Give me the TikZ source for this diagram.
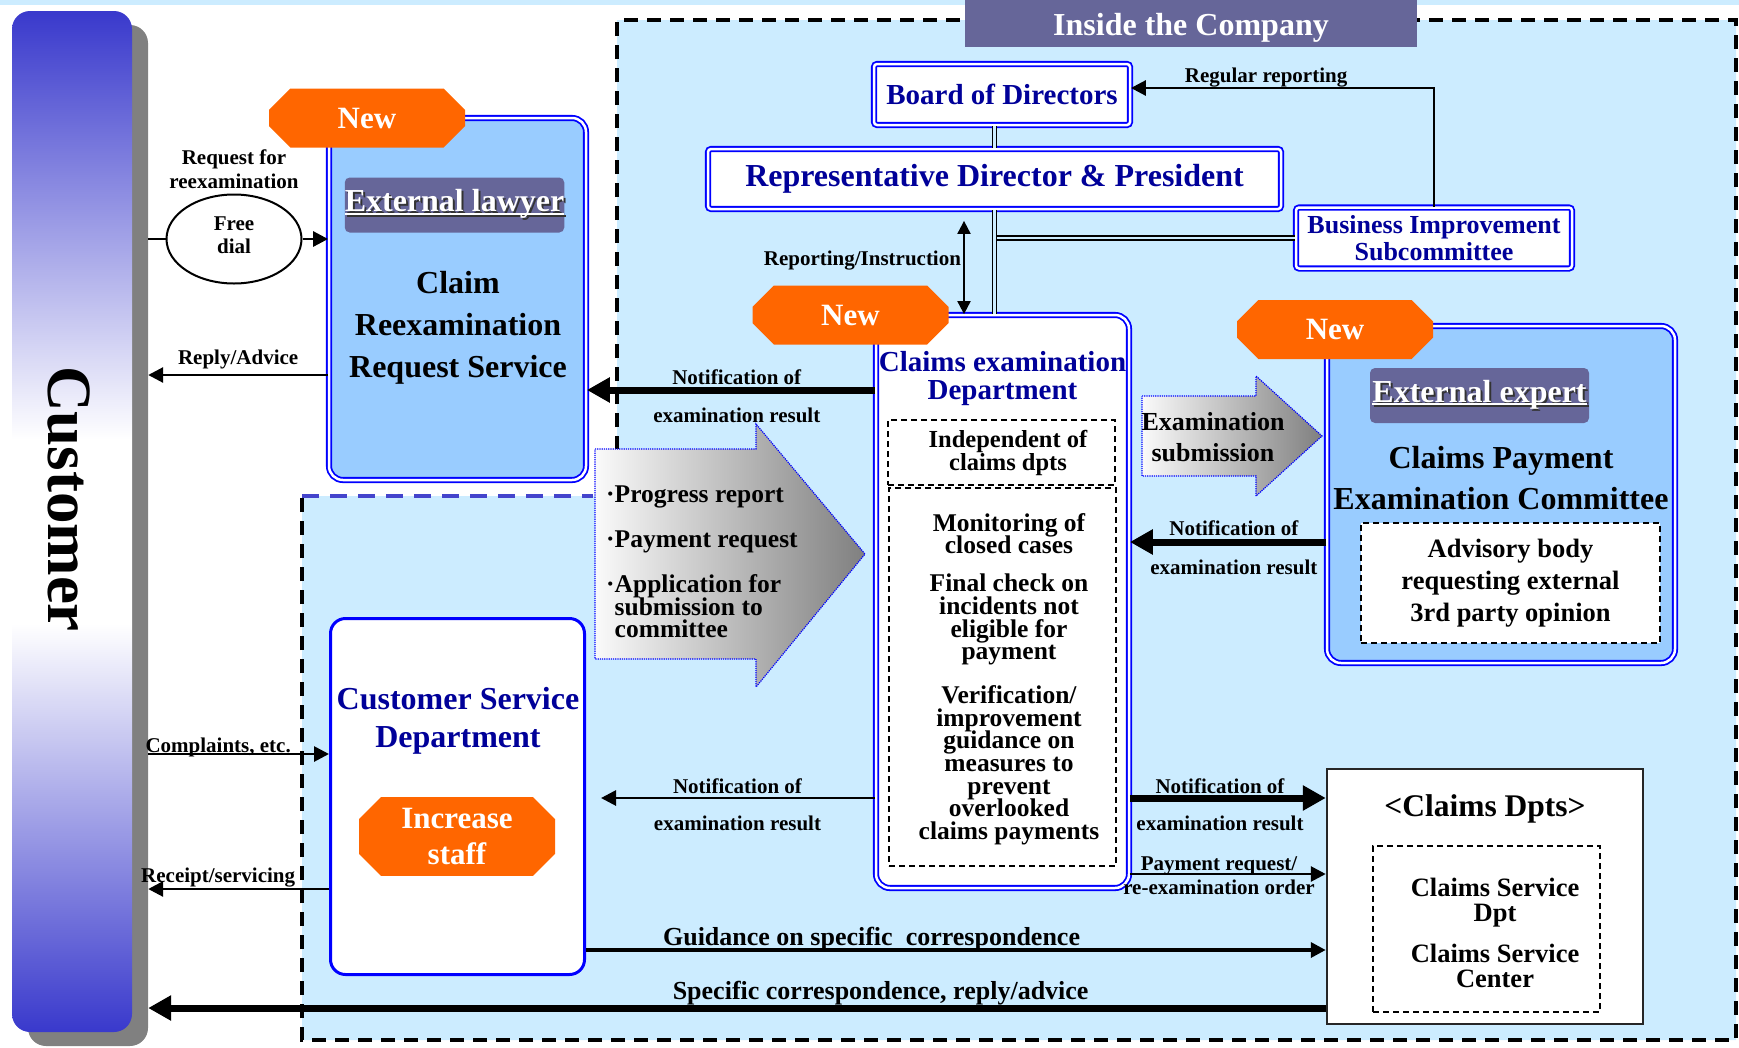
\documentclass[tikz,border=0pt]{standalone}
\usepackage{fontspec}
\setmainfont{Liberation Serif}
\usetikzlibrary{positioning,arrows.meta,shapes.geometric,shapes.misc}

\definecolor{skyfill}{HTML}{CCECFF}
\definecolor{boxfill}{HTML}{99CCFF}
\definecolor{tagpurple}{HTML}{666699}
\definecolor{neworange}{HTML}{FF6600}
\definecolor{navytxt}{HTML}{000099}
\definecolor{custblue}{HTML}{3939CC}
\definecolor{borderblue}{HTML}{0000FF}
\definecolor{dashblue}{HTML}{4444CC}

\pgfdeclareverticalshading{custshade}{100bp}{color(0bp)=(custblue); color(25bp)=(custblue); color(45bp)=(white); color(54bp)=(white); color(75bp)=(custblue); color(100bp)=(custblue)}

\newcommand\fsz[2]{\fontsize{#1}{#2}\selectfont\bfseries\lineskiplimit=-100pt\lineskip=0pt\relax}
\newcommand\ulc[1]{\setbox0\hbox{#1}\rlap{\rule[-3pt]{\wd0}{1.8pt}}\box0}
\newcommand\shadowtxt[1]{\makebox[0pt][l]{\hspace{2pt}\raisebox{-2pt}{\color{black!80}\ulc{#1}}}\ulc{#1}}

\tikzset{
  txt/.style={inner sep=0pt, align=center},
  lbl/.style={inner sep=0pt, font=\fsz{21}{23}, anchor=base},
  dblbox/.style={draw=borderblue, double=white, double distance=2.5pt, line width=1.8pt, rounded corners=14pt},
  sqbox/.style={dblbox, rounded corners=3pt, fill=white, text=navytxt, inner sep=0pt},
  dashbox/.style={draw, dash pattern=on 6pt off 4pt, line width=1.8pt, fill=white},
  tag/.style={fill=tagpurple, rounded corners=5pt, text=white, minimum width=219pt, minimum height=55pt, inner sep=0pt, font=\fsz{32}{34}},
  newtag/.style={chamfered rectangle, chamfered rectangle sep=11pt, fill=neworange, text=white, inner sep=0pt, minimum width=196pt, minimum height=59pt, font=\fsz{31}{36}, align=center},
  arr/.style={-{Triangle[length=15pt,width=15pt]}, line width=2.8pt},
  thickarr/.style={-{Triangle[length=23pt,width=24pt]}, line width=7pt},
  dblline/.style={draw=black, double=skyfill, double distance=2.6pt, line width=1.6pt},
  arrowbody/.style={left color=black!2, right color=black!50, draw=blue, densely dotted, line width=1.2pt}
}

\begin{document}
\begin{tikzpicture}[x=1pt,y=-1pt,>={Triangle[length=13pt,width=13pt]}]
\useasboundingbox (0,0) rectangle (1739,1047);
\fill[skyfill] (0,0) rectangle (1739,5);
\fill[skyfill] (617,20) -- (1736,20) -- (1736,1040) -- (302,1040) -- (302,496) -- (617,496) -- cycle;
\draw[line width=4pt, dash pattern=on 14pt off 9pt] (617,496) -- (617,20) -- (1736,20) -- (1736,1040) -- (302,1040) -- (302,496);
\draw[line width=4pt, dash pattern=on 17pt off 11pt, dashblue] (302,496) -- (593,496);
\node[fill=tagpurple, minimum width=452pt, minimum height=47pt, inner sep=0pt, text=white, font=\fsz{32}{34}, text height=23pt, text depth=0pt] (inside) at (1191,23.5) {Inside the Company};

\node[fill=black!50, rounded corners=18pt, minimum width=120pt, minimum height=1021pt] (shadow) at (88,535.5) {};
\node[shade, shading=custshade, rounded corners=18pt, minimum width=120pt, minimum height=1021pt] (cust) at (72,521.5) {};
\node[txt, rotate=-90, font=\fsz{63}{70}] (custtxt) at (69,499) {Customer};

\node[dblbox, fill=boxfill, minimum width=257pt, minimum height=362pt] (reexam) at (457.5,299) {};
\node[tag] (lawyer) at (454.5,205) {\shadowtxt{External lawyer}};
\node[txt, font=\fsz{32}{42}] (reexamtxt) at (458,328) {Claim\\Reexamination\\Request Service};
\node[newtag] (newa) at (367,118) {New};

\node[ellipse, draw, line width=2pt, fill=white, minimum width=135pt, minimum height=89pt] (freedial) at (234,239) {};
\node[txt, font=\fsz{21}{23}] (freetxt) at (234,235.5) {Free\\dial};
\node[txt, font=\fsz{21}{24}, above=5pt of freedial] (reqlbl) {Request for\\reexamination};
\draw[line width=2pt] (shadow.east |- freedial.west) -- (freedial.west);
\draw[arr] (freedial.east) -- (reexam.west |- freedial.east);
\draw[arr] (reexam.west |- 0,375) -- (shadow.east |- 0,375) node[lbl, midway, yshift=11pt] {Reply/Advice};

\node[sqbox, minimum width=256pt, minimum height=61pt, font=\fsz{29}{32}] (board) at (1002,94.5) {Board of Directors};
\node[sqbox, minimum width=573pt, minimum height=60pt, font=\fsz{32}{34}] (rep) at (994.5,179) {Representative Director \& President};
\node[sqbox, minimum width=276pt, minimum height=61pt, font=\fsz{26}{27}, align=center] (bis) at (1434,238) {Business Improvement\\Subcommittee};

\node[dblbox, fill=white, minimum width=253pt, minimum height=573pt] (exam) at (1002.5,601.5) {};
\node[txt, font=\fsz{29}{28}, text=navytxt] (examtitle) at (1002.5,379) {Claims examination\\Department};
\node[dashbox, minimum width=227pt, minimum height=65pt] (indep) at (1001.5,452.5) {};
\node[txt, font=\fsz{24.5}{23}] (indeptxt) at (1008,453) {Independent of\\claims dpts};
\node[dashbox, minimum width=227pt, minimum height=378pt] (monitor) at (1002.5,677) {};
\node[txt, font=\fsz{25.5}{22.6}] (monitortxt) at (1009,679) {Monitoring of\\closed cases\\[15.4pt]Final check on\\incidents not\\eligible for\\payment\\[21.4pt]Verification/\\improvement\\guidance on\\measures to\\prevent\\overlooked\\claims payments};
\node[newtag] (newb) at (850.5,315) {New};

\draw[dblline] (board.south -| rep.north) -- (rep.north);
\draw[dblline] (rep.south |- bis.west) -- (bis.west);
\draw[dblline] (rep.south) -- (rep.south |- exam.north);
\draw[arr] (bis.north) |- (board.east |- 0,88) node[lbl, pos=0.777, yshift=6pt] {Regular reporting};
\draw[<->, line width=2pt, shorten <=11pt] ([xshift=-30.5pt]rep.south) -- ([xshift=-30.5pt]rep.south |- exam.north) node[lbl, anchor=base east, pos=0.53, xshift=-2pt] {Reporting/Instruction};

\node[dblbox, fill=boxfill, minimum width=348pt, minimum height=337pt] (cttee) at (1501,494.5) {};
\node[tag] (expert) at (1479.5,395.5) {\shadowtxt{External expert}};
\node[txt, font=\fsz{32}{41}] (ctteetxt) at (1501,478) {Claims Payment\\Examination Committee};
\node[dashbox, minimum width=299pt, minimum height=120pt, txt, font=\fsz{26.5}{32}] (advis) at (1510.5,583) {Advisory body\\requesting external\\3rd party opinion};
\node[newtag] (newc) at (1335,329.5) {New};

\shadedraw[arrowbody] (1142,396) -- (1256,396) -- (1256,376) -- (1322,436) -- (1256,496) -- (1256,476) -- (1142,476) -- cycle;
\node[txt, font=\fsz{26}{31}] (subtxt) at (1213,437) {Examination\\submission};
\shadedraw[arrowbody] (595,449) -- (756,449) -- (756,424) -- (865,554) -- (756,687) -- (756,659) -- (595,659) -- cycle;
\node[txt, align=left, anchor=west, font=\fsz{25.5}{22.6}] (reqitems) at (606,562) {·Progress report\\[22.4pt]·Payment request\\[22.4pt]·Application for\\\phantom{·}submission to\\\phantom{·}committee};

\node[draw=borderblue, line width=3pt, fill=white, rounded corners=15pt, minimum width=254pt, minimum height=356pt] (csd) at (457.5,796.5) {};
\node[txt, font=\fsz{32}{38}, text=navytxt] (csdtxt) at (458,721) {Customer Service\\Department};
\node[newtag, minimum height=75pt] (incr) at (457,836.5) {Increase\\staff};

\node[draw=black!85, line width=2.5pt, fill=white, minimum width=316pt, minimum height=255pt] (dpts) at (1485,896.5) {};
\node[txt, font=\fsz{31.5}{34}] (dptstitle) at (1485,809) {<Claims Dpts>};
\node[dashbox, minimum width=227pt, minimum height=166pt] (csvc) at (1486.5,929) {};
\node[txt, font=\fsz{26.5}{25}] (csvctxt) at (1495,933) {Claims Service\\Dpt\\[16pt]Claims Service\\Center};

\draw[thickarr] (exam.west |- 0,390) -- (reexam.east |- 0,390) node[lbl, pos=0.48, yshift=6pt] {Notification of} node[lbl, pos=0.48, yshift=-32pt] {examination result};
\draw[thickarr] (cttee.west |- 0,542) -- (exam.east |- 0,542) node[lbl, pos=0.47, yshift=7pt] {Notification of} node[lbl, pos=0.47, yshift=-32pt] {examination result};
\draw[arr, shorten >=15pt] (exam.west |- 0,798) -- (csd.east |- 0,798) node[lbl, pos=0.476, yshift=5pt] {Notification of} node[lbl, pos=0.476, yshift=-32pt] {examination result};
\draw[thickarr] (exam.east |- 0,798) -- (dpts.west |- 0,798) node[lbl, pos=0.46, yshift=5pt] {Notification of} node[lbl, pos=0.46, yshift=-32pt] {examination result};
\draw[arr] (exam.east |- 0,874) -- (dpts.west |- 0,874) node[lbl, pos=0.455, yshift=4pt] {Payment request/} node[lbl, pos=0.455, yshift=-20pt] {re-examination order};
\draw[arr, line width=3.5pt] (csd.east |- 0,950) -- (dpts.west |- 0,950) node[lbl, font=\fsz{26}{28}, pos=0.386, yshift=5pt] {Guidance on specific\ \ correspondence};
\draw[thickarr] (dpts.west |- 0,1008) -- (shadow.east |- 0,1008) node[lbl, font=\fsz{26}{28}, pos=0.378, yshift=9pt] {Specific correspondence, reply/advice};
\draw[arr] (shadow.east |- 0,754) -- (csd.west |- 0,754) node[lbl, pos=0.387, yshift=2pt] {Complaints, etc.};
\draw[arr] (csd.west |- 0,889) -- (shadow.east |- 0,889) node[lbl, pos=0.613, yshift=7pt] {Receipt/servicing};
\end{tikzpicture}
\end{document}
